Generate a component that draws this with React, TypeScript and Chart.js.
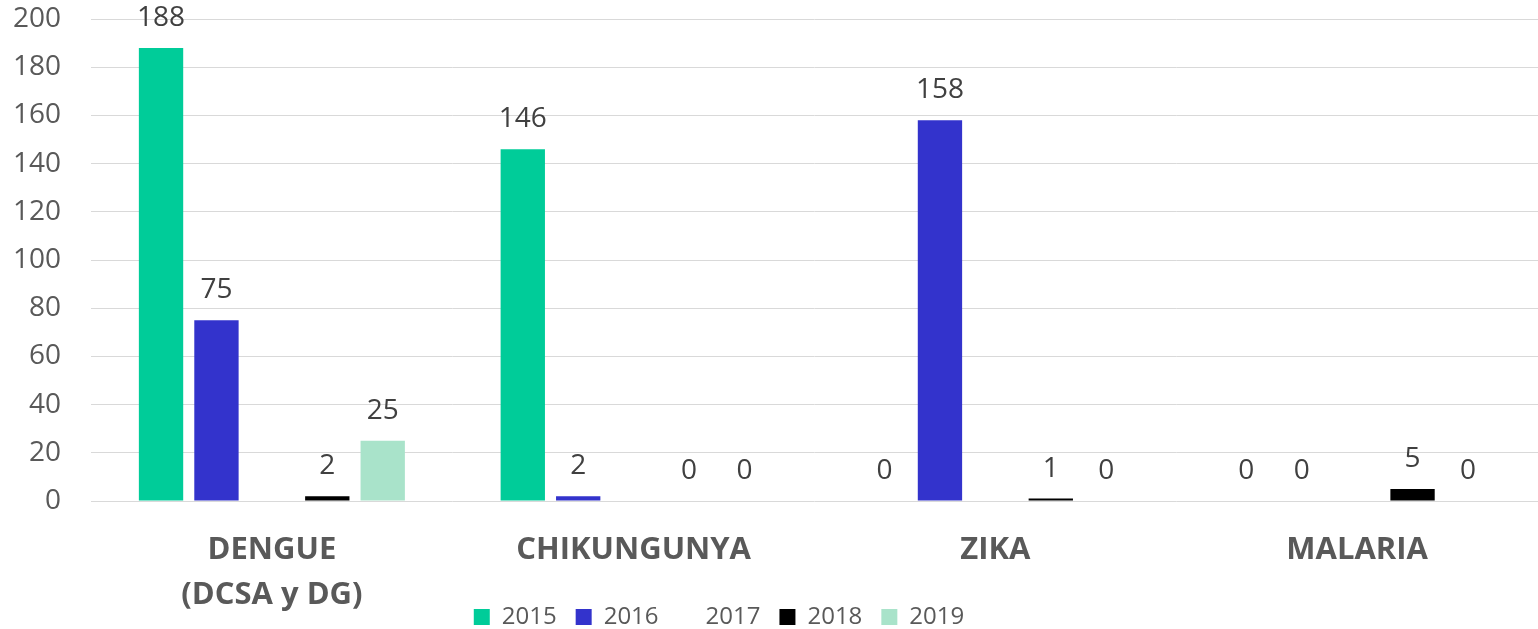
import React, { useEffect, useRef } from "react";
import { Chart, registerables } from "chart.js";

Chart.register(...registerables);

const categories: (string | string[])[] = [["DENGUE", "(DCSA y DG)"], "CHIKUNGUNYA", "ZIKA", "MALARIA"];
const years = ["2015", "2016", "2017", "2018", "2019"];
const values2015 = [188, 146, 0, 0];
const values2016 = [75, 2, 158, 0];
const values2017 = [null, null, null, null];
const values2018 = [2, 0, 1, 5];
const values2019 = [25, 0, 0, 0];
const colors = ["#00CC99", "#3333CC", "rgba(255,255,255,0)", "#000000", "#A9E3CA"];

const FONT = "'Open Sans', sans-serif";

const valueLabels = {
  id: "valueLabels",
  afterLayout(chart: any) {
    const lg = chart.legend;
    if (lg) {
      lg.left -= 50;
      lg.right -= 50;
    }
  },
  afterDatasetsDraw(chart: any) {
    const ctx = chart.ctx;
    ctx.save();
    ctx.font = `28px ${FONT}`;
    ctx.fillStyle = "#404040";
    ctx.textAlign = "center";
    ctx.textBaseline = "middle";
    chart.data.datasets.forEach((ds: any, di: number) => {
      const meta = chart.getDatasetMeta(di);
      meta.data.forEach((bar: any, i: number) => {
        const v = ds.data[i];
        if (v === null || v === undefined) return;
        ctx.fillText(String(v), bar.x, bar.y - 30);
      });
    });
    ctx.restore();
  },
};

export default function App() {
  const ref = useRef<HTMLCanvasElement>(null);
  useEffect(() => {
    document.body.style.margin = "0";
    const series = [values2015, values2016, values2017, values2018, values2019];
    const chart = new Chart(ref.current!, {
      type: "bar",
      data: {
        labels: categories,
        datasets: years.map((y, i) => ({
          label: y,
          data: series[i],
          backgroundColor: colors[i],
          borderWidth: 0,
          barPercentage: 0.8,
          categoryPercentage: 0.766,
        })),
      },
      options: {
        animation: false,
        responsive: false,
        layout: { padding: { top: 19, bottom: -10, left: 0, right: 0 } },
        plugins: {
          tooltip: { enabled: false },
          legend: {
            position: "bottom",
            labels: {
              boxWidth: 16,
              boxHeight: 16,
              padding: 19,
              color: "#595959",
              font: { family: FONT, size: 24 },
            },
          },
        },
        scales: {
          x: {
            grid: { display: false, drawTicks: false },
            border: { display: false },
            ticks: {
              color: "#595959",
              padding: 27,
              maxRotation: 0,
              autoSkip: false,
              font: { family: FONT, size: 31, weight: "bold", lineHeight: 1.452 },
            },
            afterFit: (s: any) => {
              s.height = 85;
              s._computeLabelArea = () => undefined;
            },
          },
          y: {
            min: 0,
            max: 200,
            grid: { color: "#d9d9d9", lineWidth: 1, drawTicks: false },
            border: { display: false },
            ticks: {
              stepSize: 20,
              padding: 30,
              color: "#595959",
              font: { family: FONT, size: 28 },
            },
            afterFit: (s: any) => {
              s.width = 91;
              s.paddingTop = 0;
              s.paddingBottom = 0;
            },
          },
        },
      },
      plugins: [valueLabels],
    } as any);
    return () => chart.destroy();
  }, []);
  return (
    <div style={{ width: 1538, height: 629 }}>
      <canvas ref={ref} width={1538} height={629} />
    </div>
  );
}
